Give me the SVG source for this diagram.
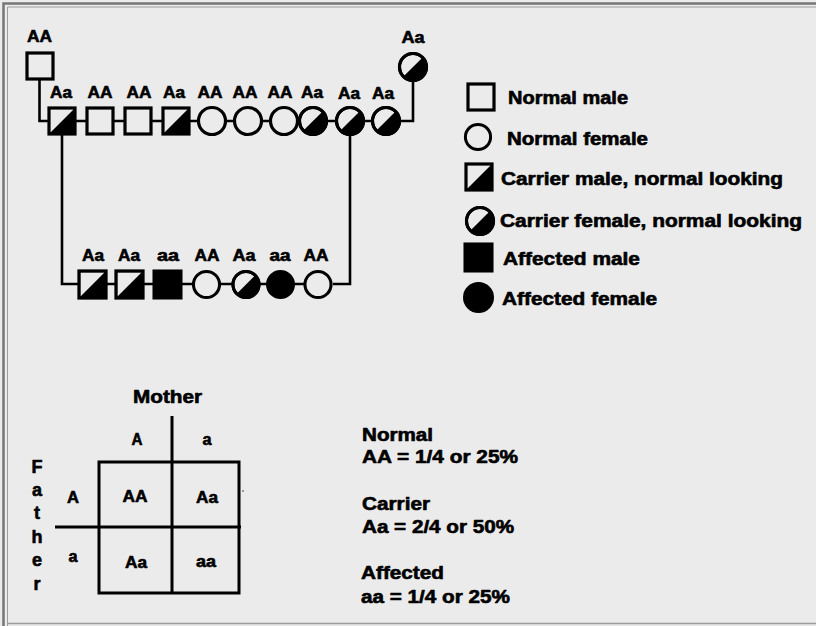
<svg xmlns="http://www.w3.org/2000/svg" width="816" height="626" viewBox="0 0 816 626">
<defs>
<style>
text{font-family:"Liberation Sans",Arial,sans-serif;font-weight:bold;fill:#000;stroke:#000;stroke-width:0.6px;stroke-linejoin:round}
.g{font-size:16px;text-anchor:middle}
.lg{font-size:17.5px}
.rt{font-size:18px}
.pn{font-size:16px;text-anchor:middle}
.s{fill:none;stroke:#000;stroke-width:3}
.e{fill:#ebebeb;stroke:#000;stroke-width:3.2}
.f{fill:#000;stroke:#000;stroke-width:3}
.ln{fill:none;stroke:#000;stroke-width:2.6}
</style>
<symbol id="sqN" viewBox="-14 -14 28 28" overflow="visible"><rect x="-13" y="-13" width="26" height="26" class="e"/></symbol>
<symbol id="sqC" viewBox="-14 -14 28 28" overflow="visible"><rect x="-13" y="-13" width="26" height="26" class="e"/><path d="M-13,13 L13,-13 L13,13 Z" fill="#000"/></symbol>
<symbol id="sqA" viewBox="-14 -14 28 28" overflow="visible"><rect x="-13" y="-13" width="26" height="26" class="f"/></symbol>
<symbol id="ciN" viewBox="-15 -15 30 30" overflow="visible"><circle r="13.5" class="e"/></symbol>
<symbol id="ciC" viewBox="-15 -15 30 30" overflow="visible"><circle r="13.5" class="e"/><path d="M-9.55,9.55 L9.55,-9.55 A13.5,13.5 0 0 1 -9.55,9.55 Z" fill="#000"/><circle r="13.5" class="s"/></symbol>
<symbol id="ciA" viewBox="-15 -15 30 30" overflow="visible"><circle r="13.5" class="f"/></symbol>
</defs>
<rect x="0" y="0" width="816" height="626" fill="#ebebeb"/>
<path d="M3.5,626 V3.5 H816" fill="none" stroke="#777" stroke-width="2.5"/>
<path d="M7.5,626 V7 H816" fill="none" stroke="#9d9d9d" stroke-width="1"/>
<path d="M7.5,623.5 H816" fill="none" stroke="#9d9d9d" stroke-width="1.5"/>

<g id="connectors">
<path class="ln" d="M39.5,79 V121 H48"/>
<path class="ln" d="M413,82 V121 H400"/>
<path class="ln" d="M76,121 H86 M114,121 H124 M152,121 H162 M190,121 H197 M227,121 H233 M263,121 H269 M328,121 H335 M365,121 H372"/>
<path class="ln" d="M62,135 V284 H78"/>
<path class="ln" d="M350,136 V284 H333"/>
<path class="ln" d="M107,284 H115 M144,284 H153 M182,284 H193 M220,284 H232 M260,284 H266 M295,284 H304"/>
</g>

<g id="gp-father"><use href="#sqN" x="26" y="52" width="28" height="28"/><text class="g" x="39.5" y="42" textLength="25" lengthAdjust="spacingAndGlyphs">AA</text></g>
<g id="gp-mother"><use href="#ciC" x="398" y="52" width="30" height="30"/><text class="g" x="413" y="43" textLength="23" lengthAdjust="spacingAndGlyphs">Aa</text></g>

<g id="p1"><use href="#sqC" x="48" y="107" width="28" height="28"/><text class="g" x="61" y="98" textLength="22" lengthAdjust="spacingAndGlyphs">Aa</text></g>
<g id="p2"><use href="#sqN" x="86" y="107" width="28" height="28"/><text class="g" x="100" y="98" textLength="25" lengthAdjust="spacingAndGlyphs">AA</text></g>
<g id="p3"><use href="#sqN" x="124" y="107" width="28" height="28"/><text class="g" x="139" y="98" textLength="25" lengthAdjust="spacingAndGlyphs">AA</text></g>
<g id="p4"><use href="#sqC" x="162" y="107" width="28" height="28"/><text class="g" x="174" y="98" textLength="22" lengthAdjust="spacingAndGlyphs">Aa</text></g>
<g id="p5"><use href="#ciN" x="197" y="106" width="30" height="30"/><text class="g" x="210" y="98" textLength="25" lengthAdjust="spacingAndGlyphs">AA</text></g>
<g id="p6"><use href="#ciN" x="233" y="106" width="30" height="30"/><text class="g" x="245" y="98" textLength="25" lengthAdjust="spacingAndGlyphs">AA</text></g>
<g id="p7"><use href="#ciN" x="269" y="106" width="30" height="30"/><text class="g" x="280" y="98" textLength="25" lengthAdjust="spacingAndGlyphs">AA</text></g>
<g id="p8"><use href="#ciC" x="298" y="106" width="30" height="30"/><text class="g" x="312" y="98" textLength="22" lengthAdjust="spacingAndGlyphs">Aa</text></g>
<g id="p9"><use href="#ciC" x="335" y="106" width="30" height="30"/><text class="g" x="349" y="99" textLength="22" lengthAdjust="spacingAndGlyphs">Aa</text></g>
<g id="p10"><use href="#ciC" x="371" y="106" width="30" height="30"/><text class="g" x="383" y="99" textLength="22" lengthAdjust="spacingAndGlyphs">Aa</text></g>

<g id="c1"><use href="#sqC" x="78" y="270" width="29" height="29"/><text class="g" x="93" y="261" textLength="22" lengthAdjust="spacingAndGlyphs">Aa</text></g>
<g id="c2"><use href="#sqC" x="115" y="270" width="29" height="29"/><text class="g" x="129" y="261" textLength="22" lengthAdjust="spacingAndGlyphs">Aa</text></g>
<g id="c3"><use href="#sqA" x="153" y="270" width="29" height="29"/><text class="g" x="168" y="261" textLength="22" lengthAdjust="spacingAndGlyphs">aa</text></g>
<g id="c4"><use href="#ciN" x="192" y="270" width="29" height="29"/><text class="g" x="207" y="261" textLength="25" lengthAdjust="spacingAndGlyphs">AA</text></g>
<g id="c5"><use href="#ciC" x="231.5" y="270" width="29" height="29"/><text class="g" x="244" y="261" textLength="23" lengthAdjust="spacingAndGlyphs">Aa</text></g>
<g id="c6"><use href="#ciA" x="266" y="270" width="29" height="29"/><text class="g" x="280" y="261" textLength="21" lengthAdjust="spacingAndGlyphs">aa</text></g>
<g id="c7"><use href="#ciN" x="303.5" y="270" width="29" height="29"/><text class="g" x="316" y="261" textLength="25" lengthAdjust="spacingAndGlyphs">AA</text></g>

<g id="legend">
<use href="#sqN" x="467" y="83" width="28" height="28"/>
<text class="lg" x="508" y="104" textLength="120" lengthAdjust="spacingAndGlyphs">Normal male</text>
<use href="#ciN" x="464" y="123" width="28" height="28"/>
<text class="lg" x="507" y="145" textLength="141" lengthAdjust="spacingAndGlyphs">Normal female</text>
<use href="#sqC" x="465" y="163" width="28" height="28"/>
<text class="lg" x="501" y="185" textLength="282" lengthAdjust="spacingAndGlyphs">Carrier male, normal looking</text>
<use href="#ciC" x="465" y="206" width="30" height="30"/>
<text class="lg" x="500" y="227" textLength="302" lengthAdjust="spacingAndGlyphs">Carrier female, normal looking</text>
<use href="#sqA" x="464" y="243" width="29" height="29"/>
<text class="lg" x="503" y="265" textLength="137" lengthAdjust="spacingAndGlyphs">Affected male</text>
<use href="#ciA" x="463" y="282" width="31" height="31"/>
<text class="lg" x="502" y="305" textLength="155" lengthAdjust="spacingAndGlyphs">Affected female</text>
</g>

<g id="punnett">
<text class="rt" x="133" y="403" textLength="69" lengthAdjust="spacingAndGlyphs">Mother</text>
<path class="s" d="M172,416 V594 M55,527 H241"/>
<rect class="s" x="99" y="462" width="140" height="131"/>
<text class="pn" x="137" y="445" textLength="11" lengthAdjust="spacingAndGlyphs">A</text>
<text class="pn" x="207" y="445" textLength="9" lengthAdjust="spacingAndGlyphs">a</text>
<text class="pn" x="73" y="503" textLength="12" lengthAdjust="spacingAndGlyphs">A</text>
<text class="pn" x="73" y="562" textLength="9" lengthAdjust="spacingAndGlyphs">a</text>
<text class="pn" x="135" y="502" textLength="25" lengthAdjust="spacingAndGlyphs">AA</text>
<text class="pn" x="207" y="503" textLength="22" lengthAdjust="spacingAndGlyphs">Aa</text>
<text class="pn" x="136" y="568" textLength="22" lengthAdjust="spacingAndGlyphs">Aa</text>
<text class="pn" x="206" y="567" textLength="20" lengthAdjust="spacingAndGlyphs">aa</text>
<circle cx="243" cy="491" r="0.8" fill="#333"/>
<g class="rt" text-anchor="middle">
<text x="37" y="473">F</text>
<text x="37" y="496">a</text>
<text x="37" y="519">t</text>
<text x="37" y="543">h</text>
<text x="37" y="566">e</text>
<text x="37" y="590">r</text>
</g>
</g>

<g id="ratios">
<text class="rt" x="362" y="441" textLength="71" lengthAdjust="spacingAndGlyphs">Normal</text>
<text class="rt" x="362" y="463" textLength="156" lengthAdjust="spacingAndGlyphs">AA = 1/4 or 25%</text>
<text class="rt" x="362" y="510" textLength="68" lengthAdjust="spacingAndGlyphs">Carrier</text>
<text class="rt" x="362" y="533" textLength="152" lengthAdjust="spacingAndGlyphs">Aa = 2/4 or 50%</text>
<text class="rt" x="361" y="579" textLength="83" lengthAdjust="spacingAndGlyphs">Affected</text>
<text class="rt" x="361" y="603" textLength="149" lengthAdjust="spacingAndGlyphs">aa = 1/4 or 25%</text>
</g>
</svg>
